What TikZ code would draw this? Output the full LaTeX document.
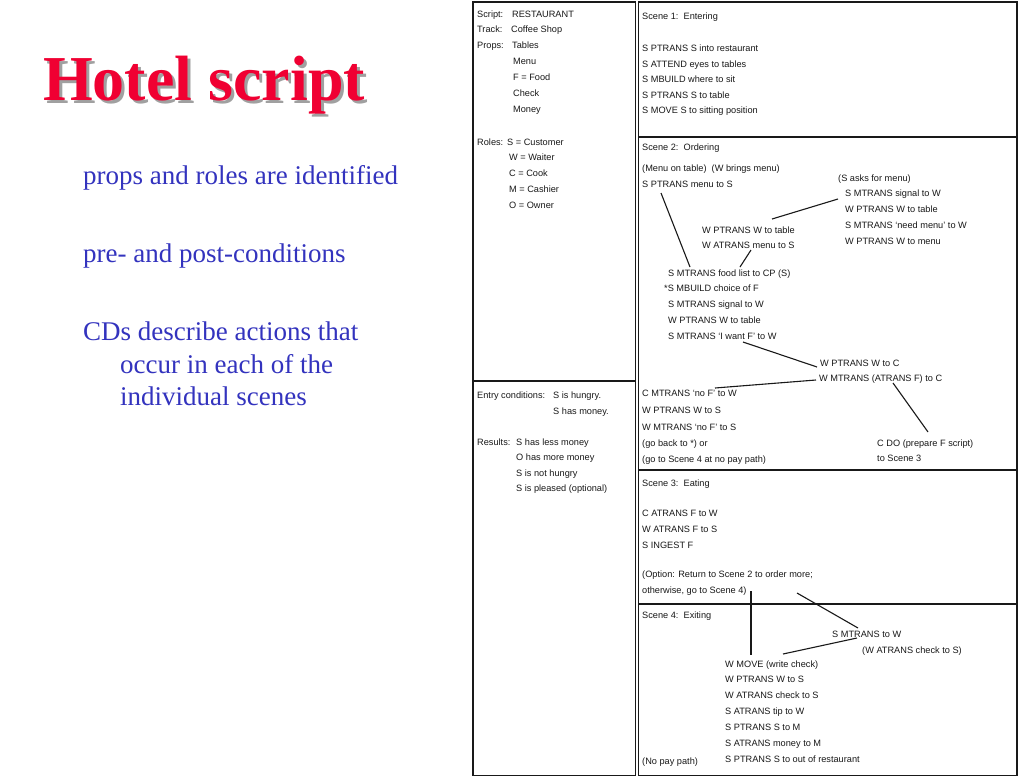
\documentclass[tikz,border=0pt]{standalone}
\usepackage{fontspec}
\setmainfont{Liberation Serif}
\newfontfamily\scanfont{Liberation Sans}
\definecolor{titlered}{RGB}{240,0,50}
\definecolor{titleshade}{RGB}{160,160,160}
\definecolor{bodyblue}{RGB}{51,51,190}
\definecolor{ink}{RGB}{25,25,25}
\begin{document}
\begin{tikzpicture}[x=1pt,y=-1pt,
  titletext/.style={anchor=base west,inner sep=0pt,font=\fontsize{64}{70}\selectfont\bfseries,text=titlered},
  titleshadow/.style={anchor=base west,inner sep=0pt,font=\fontsize{64}{70}\selectfont\bfseries,text=titleshade},
  bodytext/.style={anchor=base west,inner sep=0pt,font=\fontsize{27}{30}\selectfont,text=bodyblue},
  sc/.style={anchor=base west,inner sep=0pt,font=\scanfont\fontsize{9.2}{11}\selectfont,text=ink},
  frame/.style={line width=1.3pt,draw=ink},
  link/.style={line width=1.1pt,draw=ink}]
\useasboundingbox (0,0) rectangle (1023,780);
\fill[white] (0,0) rectangle (1023,780);

% title and bullets
\node[titleshadow] (titlesh) at (46,103) {Hotel script};
\node[titletext] (title) at (43,100) {Hotel script};
\node[bodytext] (b1) at (83,184) {props and roles are identified};
\node[bodytext] (b2) at (83,262) {pre- and post-conditions};
\node[bodytext] (b3) at (83,340) {CDs describe actions that};
\node[bodytext] (b3b) at (120,373) {occur in each of the};
\node[bodytext] (b3c) at (120,405) {individual scenes};

% frames
\draw[frame] (473,2) rectangle (635.5,775.5);
\draw[frame] (473,381) -- (635.5,381);
\draw[frame] (638.5,2) rectangle (1017,775.5);
\draw[frame] (638.5,137) -- (1017,137);
\draw[frame] (638.5,470) -- (1017,470);
\draw[frame] (638.5,604) -- (1017,604);

% left column
\node[sc] (scr) at (477,17.5) {Script:};
\node[sc] (scrv) at (512,17.5) {RESTAURANT};
\node[sc] (trk) at (477,32.5) {Track:};
\node[sc] (trkv) at (511,32.5) {Coffee Shop};
\node[sc] (prp) at (477,48.5) {Props:};
\node[sc] (prp1) at (512,48.5) {Tables};
\node[sc] (prp2) at (513,64.5) {Menu};
\node[sc] (prp3) at (513,80.5) {F = Food};
\node[sc] (prp4) at (513,96.5) {Check};
\node[sc] (prp5) at (513,112.5) {Money};
\node[sc] (rol) at (477,145.5) {Roles:};
\node[sc] (rol1) at (507,145.5) {S = Customer};
\node[sc] (rol2) at (509,160.5) {W = Waiter};
\node[sc] (rol3) at (509,176.5) {C = Cook};
\node[sc] (rol4) at (509,192.5) {M = Cashier};
\node[sc] (rol5) at (509,208.5) {O = Owner};
\node[sc] (ent) at (477,398.5) {Entry conditions:};
\node[sc] (ent1) at (553,398.5) {S is hungry.};
\node[sc] (ent2) at (553,414.5) {S has money.};
\node[sc] (res) at (477,445.5) {Results:};
\node[sc] (res1) at (516,445.5) {S has less money};
\node[sc] (res2) at (516,460.5) {O has more money};
\node[sc] (res3) at (516,476.5) {S is not hungry};
\node[sc] (res4) at (516,491.5) {S is pleased (optional)};

% scene 1
\node[sc] (s1h) at (642,19.5) {Scene 1:\ \ Entering};
\node[sc] (s1a) at (642,51.5) {S PTRANS S into restaurant};
\node[sc] (s1b) at (642,67) {S ATTEND eyes to tables};
\node[sc] (s1c) at (642,82.5) {S MBUILD where to sit};
\node[sc] (s1d) at (642,98) {S PTRANS S to table};
\node[sc] (s1e) at (642,113.5) {S MOVE S to sitting position};

% scene 2
\node[sc] (s2h) at (642,150.5) {Scene 2:\ \ Ordering};
\node[sc] (s2a) at (642,171.5) {(Menu on table)\ \ (W brings menu)};
\node[sc] (s2b) at (642,187) {S PTRANS menu to S};
\node[sc] (s2r0) at (838,181.5) {(S asks for menu)};
\node[sc] (s2r1) at (845,196.5) {S MTRANS signal to W};
\node[sc] (s2r2) at (845,212.5) {W PTRANS W to table};
\node[sc] (s2r3) at (845,228) {S MTRANS ‘need menu’ to W};
\node[sc] (s2r4) at (845,244) {W PTRANS W to menu};
\node[sc] (s2m1) at (702,233.5) {W PTRANS W to table};
\node[sc] (s2m2) at (702,248.5) {W ATRANS menu to S};
\node[sc] (s2c1) at (668,276.5) {S MTRANS food list to CP (S)};
\node[sc] (s2c2) at (664,291.5) {*S MBUILD choice of F};
\node[sc] (s2c3) at (668,307.5) {S MTRANS signal to W};
\node[sc] (s2c4) at (668,323.5) {W PTRANS W to table};
\node[sc] (s2c5) at (668,339.5) {S MTRANS ‘I want F’ to W};
\node[sc] (s2k1) at (820,366.5) {W PTRANS W to C};
\node[sc] (s2k2) at (819,381.5) {W MTRANS (ATRANS F) to C};
\node[sc] (s2n1) at (642,396.5) {C MTRANS ‘no F’ to W};
\node[sc] (s2n2) at (642,413) {W PTRANS W to S};
\node[sc] (s2n3) at (642,430) {W MTRANS ‘no F’ to S};
\node[sc] (s2n4) at (642,446) {(go back to *) or};
\node[sc] (s2n5) at (642,462) {(go to Scene 4 at no pay path)};
\node[sc] (s2d1) at (877,446) {C DO (prepare F script)};
\node[sc] (s2d2) at (877,461.5) {to Scene 3};

% scene 3
\node[sc] (s3h) at (642,486.5) {Scene 3:\ \ Eating};
\node[sc] (s3a) at (642,516.5) {C ATRANS F to W};
\node[sc] (s3b) at (642,532) {W ATRANS F to S};
\node[sc] (s3c) at (642,548) {S INGEST F};
\node[sc] (s3d) at (642,577.5) {(Option: Return to Scene 2 to order more;};
\node[sc] (s3e) at (642,593.5) {otherwise, go to Scene 4)};

% scene 4
\node[sc] (s4h) at (642,618.5) {Scene 4:\ \ Exiting};
\node[sc] (s4p) at (832,637) {S MTRANS to W};
\node[sc] (s4q) at (862,653.5) {(W ATRANS check to S)};
\node[sc] (s4a) at (725,667) {W MOVE (write check)};
\node[sc] (s4b) at (725,682.5) {W PTRANS W to S};
\node[sc] (s4c) at (725,698.5) {W ATRANS check to S};
\node[sc] (s4d) at (725,714) {S ATRANS tip to W};
\node[sc] (s4e) at (725,730) {S PTRANS S to M};
\node[sc] (s4f) at (725,746) {S ATRANS money to M};
\node[sc] (s4g) at (725,762) {S PTRANS S to out of restaurant};
\node[sc] (s4n) at (642,764) {(No pay path)};

% connector end points
\coordinate (l1a) at (661,193);  \coordinate (l1b) at (690,267);
\coordinate (l2a) at (838,199);  \coordinate (l2b) at (772,219);
\coordinate (l3a) at (751,250);  \coordinate (l3b) at (740,267);
\coordinate (l4a) at (743,342);  \coordinate (l4b) at (817,367);
\coordinate (l5a) at (816,380);  \coordinate (l5b) at (715,388);
\coordinate (l6a) at (893,383);  \coordinate (l6b) at (928,432);
\coordinate (l7a) at (797,593);  \coordinate (l7b) at (858,628);
\coordinate (l8a) at (857,638);  \coordinate (l8b) at (783,654);
\coordinate (l9a) at (751,591);  \coordinate (l9b) at (751,655);

\draw[link] (l1a) -- (l1b);
\draw[link] (l2a) -- (l2b);
\draw[link] (l3a) -- (l3b);
\draw[link] (l4a) -- (l4b);
\draw[link] (l5a) -- (l5b);
\draw[link] (l6a) -- (l6b);
\draw[link] (l7a) -- (l7b);
\draw[link] (l8a) -- (l8b);
\draw[link] (l9a) -- (l9b);
\end{tikzpicture}
\end{document}
